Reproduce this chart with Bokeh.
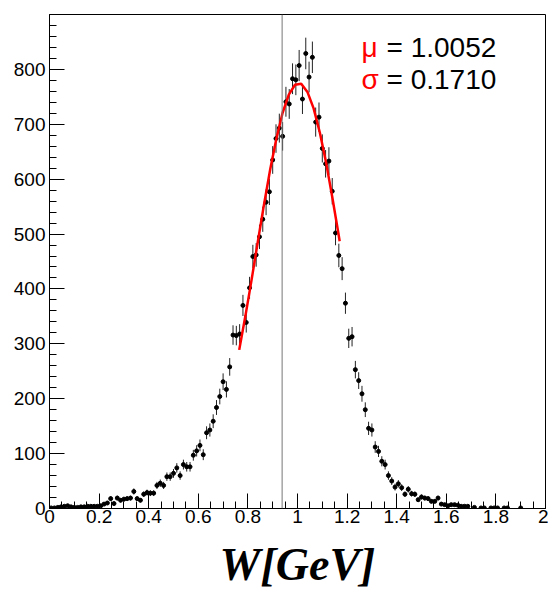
import math
from bokeh.plotting import figure
from bokeh.models import Span, Label, FixedTicker
from bokeh.embed import file_html
from bokeh.resources import INLINE

# ---- histogram definition and contents ----
x_min, x_max, n_bins = 0.0, 2.0, 150
counts = [
    1, 1, 2, 3, 4, 5, 3, 2, 2, 3,
    3, 4, 4, 4, 4, 5, 8, 10, 18, 9,
    19, 15, 17, 18, 19, 31, 18, 15, 26, 29,
    28, 28, 42, 46, 42, 58, 58, 64, 74, 60,
    80, 76, 76, 97, 105, 115, 98, 138, 143, 159,
    184, 204, 231, 217, 258, 316, 315, 318, 370, 339,
    402, 459, 462, 495, 527, 558, 577, 635, 674, 693,
    678, 741, 737, 783, 781, 807, 746, 829, 786, 822,
    704, 713, 656, 628, 633, 578, 502, 461, 437, 374,
    310, 313, 253, 233, 209, 180, 146, 143, 112, 104,
    86, 80, 60, 50, 39, 45, 38, 26, 35, 27,
    26, 16, 21, 19, 18, 13, 13, 19, 8, 7,
    5, 7, 7, 6, 4, 4, 4, 0, 2, 0,
    1, 1, 0, 1, 1, 1, 0, 1, 1, 0,
    0, 0, 1, 0, 0, 0, 0, 0, 0, 0,
]

# ---- fitted curve ----
fit_x = [0.765, 0.79, 0.815, 0.84, 0.865, 0.89, 0.915, 0.94, 0.965, 0.99,
         1.015, 1.04, 1.065, 1.09, 1.115, 1.14, 1.165, 1.17]
fit_y = [289, 351, 417, 486, 554, 618, 674, 721, 754, 772,
         774, 759, 729, 685, 631, 568, 501, 487]

mu_label = "= 1.0052"
sigma_label = "= 0.1710"
x_title = "W[GeV]"
marker_line_x = 0.938

x_ticks = [0, 0.2, 0.4, 0.6, 0.8, 1.0, 1.2, 1.4, 1.6, 1.8, 2.0]
x_tick_labels = ["0", "0.2", "0.4", "0.6", "0.8", "1", "1.2", "1.4", "1.6", "1.8", "2"]
x_minor = [i * 0.05 for i in range(41)]
y_ticks = [0, 100, 200, 300, 400, 500, 600, 700, 800]
y_minor = [i * 20 for i in range(46)]

# ---- build points ----
bw = (x_max - x_min) / n_bins
xc, yc, ylo, yhi, xlo, xhi = [], [], [], [], [], []
for i, c in enumerate(counts):
    if c <= 0:
        continue
    x = x_min + (i + 0.5) * bw
    e = math.sqrt(c)
    xc.append(x)
    yc.append(c)
    ylo.append(c - e)
    yhi.append(c + e)
    xlo.append(x - bw / 2)
    xhi.append(x + bw / 2)

p = figure(width=548, height=600, x_range=(0, 2), y_range=(0, 900),
           output_backend="svg", toolbar_location=None,
           min_border_left=49, min_border_right=3, min_border_top=14,
           min_border_bottom=92)
p.background_fill_color = "white"
p.border_fill_color = "white"
p.grid.visible = False
p.outline_line_color = "black"
p.outline_line_width = 1

for ax in (p.xaxis[0], p.yaxis[0]):
    ax.axis_line_color = "black"
    ax.major_tick_line_color = "black"
    ax.minor_tick_line_color = "black"
    ax.major_tick_in = 15
    ax.major_tick_out = 0
    ax.minor_tick_in = 7
    ax.minor_tick_out = 0
    ax.major_label_text_font = "Liberation Sans"
    ax.major_label_text_font_size = "19px"
    ax.major_label_text_color = "black"

p.xaxis.ticker = FixedTicker(ticks=x_ticks, minor_ticks=x_minor)
p.xaxis.major_label_overrides = {t: l for t, l in zip(x_ticks, x_tick_labels)}
p.xaxis.major_label_standoff = 1
p.xaxis.axis_label = x_title
p.xaxis.axis_label_text_font = "Liberation Serif"
p.xaxis.axis_label_text_font_style = "bold italic"
p.xaxis.axis_label_text_font_size = "46px"
p.xaxis.axis_label_text_color = "black"
p.xaxis.axis_label_standoff = 13
p.yaxis.ticker = FixedTicker(ticks=y_ticks, minor_ticks=y_minor)
p.yaxis.major_label_standoff = 4

p.add_layout(Span(location=marker_line_x, dimension="height",
                  line_color="#777777", line_width=1))

p.segment(x0=xc, y0=ylo, x1=xc, y1=yhi, line_color="#222222", line_width=1)
p.segment(x0=xlo, y0=yc, x1=xhi, y1=yc, line_color="#222222", line_width=1)
p.scatter(xc, yc, size=4, marker="circle", fill_color="black", line_color="black")

p.line(fit_x, fit_y, line_color="red", line_width=2.5)

common = dict(text_font="Liberation Sans", text_font_size="28px",
              text_baseline="alphabetic")
p.add_layout(Label(x=1.258, y=839, text="μ", text_color="red", **common))
p.add_layout(Label(x=1.359, y=839, text=mu_label, text_color="black", **common))
p.add_layout(Label(x=1.258, y=781, text="σ", text_color="red", **common))
p.add_layout(Label(x=1.359, y=781, text=sigma_label, text_color="black", **common))

open("out.html", "w").write(file_html(p, INLINE))
